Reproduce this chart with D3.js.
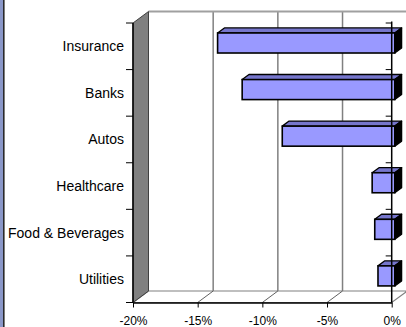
<!DOCTYPE html>
<html>
<head>
<meta charset="utf-8">
<script src="https://cdn.jsdelivr.net/npm/d3@7"></script>
<style>
  html, body { margin: 0; padding: 0; background: #fff; }
  svg { display: block; }
</style>
</head>
<body>
<div id="chart"></div>
<script>
const categories = ["Insurance", "Banks", "Autos", "Healthcare", "Food & Beverages", "Utilities"];
const values = [-13.7, -11.8, -8.7, -1.75, -1.55, -1.3];
const valueTicks = [-20, -15, -10, -5, 0];
const tickLabels = ["-20%", "-15%", "-10%", "-5%", "0%"];

const W = 406, H = 327;
const plotLeft = 133, plotRight = 391.7, plotTop = 23, plotBottom = 302.5;
// depth of the 3d box (back plane is up and to the right)
const depth = { dx: 15.5, dy: -11.5 };
const barFront = 0.2, barBack = 0.64;

const svg = d3.select("#chart").append("svg")
  .attr("width", W).attr("height", H);

svg.append("rect").attr("width", W).attr("height", H).attr("fill", "#fff");

const x = d3.scaleLinear().domain([-20, 0]).range([plotLeft, plotRight]);
const y = d3.scaleBand().domain(categories).range([plotTop, plotBottom])
  .paddingInner(0.57).paddingOuter(0.285);
const band = d3.scaleBand().domain(categories).range([plotTop, plotBottom]);

const g = svg.append("g");
const gridColor = "#808080";
const pts = (arr) => arr.map((p) => p.join(",")).join(" ");

// back wall gridlines
g.append("g").selectAll("line").data(valueTicks.slice(1, -1)).join("line")
  .attr("x1", (d) => x(d) + depth.dx).attr("x2", (d) => x(d) + depth.dx)
  .attr("y1", plotTop + depth.dy).attr("y2", plotBottom + depth.dy)
  .attr("stroke", gridColor).attr("stroke-width", 1.5);

// top back edge
g.append("line")
  .attr("x1", plotLeft + depth.dx).attr("x2", W + 5)
  .attr("y1", plotTop + depth.dy).attr("y2", plotTop + depth.dy)
  .attr("stroke", "#a0a0a0").attr("stroke-width", 2);

// floor
g.append("polygon")
  .attr("points", pts([
    [x(-20), plotBottom], [x(0), plotBottom],
    [x(0) + depth.dx, plotBottom + depth.dy], [x(-20) + depth.dx, plotBottom + depth.dy],
  ]))
  .attr("fill", "#fff").attr("stroke", gridColor).attr("stroke-width", 1.2);

// floor grid diagonals
g.append("g").selectAll("line").data(valueTicks.slice(1, -1)).join("line")
  .attr("x1", (d) => x(d)).attr("y1", plotBottom)
  .attr("x2", (d) => x(d) + depth.dx).attr("y2", plotBottom + depth.dy)
  .attr("stroke", "#606060").attr("stroke-width", 1);

// left wall
g.append("polygon")
  .attr("points", pts([
    [plotLeft, plotTop], [plotLeft + depth.dx, plotTop + depth.dy],
    [plotLeft + depth.dx, plotBottom + depth.dy], [plotLeft, plotBottom],
  ]))
  .attr("fill", "#808080").attr("stroke", "#404040").attr("stroke-width", 1);
g.append("line")
  .attr("x1", plotLeft).attr("x2", plotLeft).attr("y1", plotTop).attr("y2", plotBottom)
  .attr("stroke", "#000").attr("stroke-width", 1.5);

// 3d bars
const fdx = depth.dx * barFront, fdy = depth.dy * barFront;
const bdx = depth.dx * barBack, bdy = depth.dy * barBack;

const bars = g.append("g").selectAll("g")
  .data(categories.map((c, i) => ({ c, v: values[i] })))
  .join("g");

bars.each(function (d) {
  const sel = d3.select(this);
  const x0 = x(d.v), x1 = x(0);
  const y0 = y(d.c) - 1, y1 = y(d.c) + y.bandwidth() - 1;
  // top face
  sel.append("polygon")
    .attr("points", pts([
      [x0 + fdx, y0 + fdy], [x1 + fdx, y0 + fdy],
      [x1 + bdx, y0 + bdy], [x0 + bdx, y0 + bdy],
    ]))
    .attr("fill", "#7676cc").attr("stroke", "#000").attr("stroke-width", 1.3)
    .attr("stroke-linejoin", "round");
  // end face
  sel.append("polygon")
    .attr("points", pts([
      [x1 + fdx, y0 + fdy], [x1 + bdx, y0 + bdy],
      [x1 + bdx, y1 + bdy], [x1 + fdx, y1 + fdy],
    ]))
    .attr("fill", "#000").attr("stroke", "#000").attr("stroke-width", 1.3)
    .attr("stroke-linejoin", "round");
  // front face
  sel.append("rect")
    .attr("x", x0 + fdx).attr("y", y0 + fdy)
    .attr("width", x1 - x0).attr("height", y1 - y0)
    .attr("fill", "#9999ff").attr("stroke", "#000").attr("stroke-width", 1.6);
});

// category ticks on the wall front edge and on the 0% line
const boundaries = categories.map((c) => band(c)).concat([plotBottom]);
g.append("g").selectAll("line").data(boundaries).join("line")
  .attr("x1", plotLeft - 7).attr("x2", plotLeft)
  .attr("y1", (d) => d).attr("y2", (d) => d)
  .attr("stroke", "#000").attr("stroke-width", 1);
g.append("g").selectAll("line").data(boundaries.slice(0, -1)).join("line")
  .attr("x1", x(0) - 6).attr("x2", x(0))
  .attr("y1", (d) => d).attr("y2", (d) => d)
  .attr("stroke", "#000").attr("stroke-width", 1);

// 0% category axis line
g.append("line")
  .attr("x1", x(0)).attr("x2", x(0)).attr("y1", plotTop - 1.5).attr("y2", plotBottom)
  .attr("stroke", "#000").attr("stroke-width", 1.5);

// value axis
const xAxis = d3.axisBottom(x)
  .tickValues(valueTicks)
  .tickFormat((d, i) => tickLabels[i])
  .tickSize(5).tickPadding(9).tickSizeOuter(0);
const ax = g.append("g").attr("transform", `translate(0,${plotBottom})`).call(xAxis);
ax.select(".domain").attr("stroke", "#000").attr("stroke-width", 1.5);
ax.selectAll(".tick line").attr("stroke", "#000").attr("stroke-width", 1);
ax.selectAll(".tick text")
  .attr("font-family", "Liberation Sans, Arial, sans-serif")
  .attr("font-size", 12).attr("fill", "#000");

// category labels
g.append("g").selectAll("text").data(categories).join("text")
  .attr("x", 124)
  .attr("y", (d) => band(d) + band.bandwidth() / 2)
  .attr("dy", "0.36em")
  .attr("text-anchor", "end")
  .attr("font-family", "Liberation Sans, Arial, sans-serif")
  .attr("font-size", 14)
  .attr("fill", "#000")
  .text((d) => d);

// left frame edge
svg.append("rect").attr("x", 0).attr("y", 0).attr("width", 3).attr("height", H)
  .attr("fill", "#8a97c8");
svg.append("rect").attr("x", 3).attr("y", 0).attr("width", 1.6).attr("height", H)
  .attr("fill", "#2a2a2a");
</script>
</body>
</html>
